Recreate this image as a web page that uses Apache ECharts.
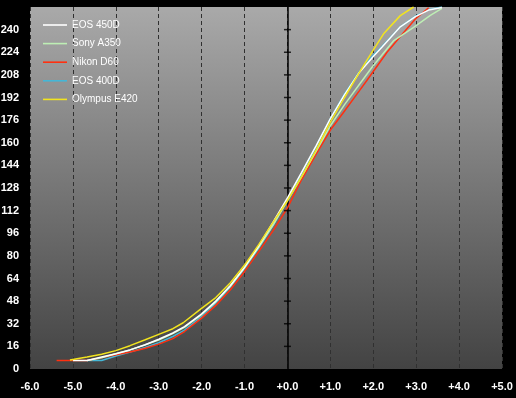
<!DOCTYPE html>
<html>
<head>
<meta charset="utf-8">
<script src="https://cdn.jsdelivr.net/npm/echarts@6/dist/echarts.min.js"></script>
<style>html,body{margin:0;padding:0;background:#000;}#c{width:516px;height:398px;}</style>
</head>
<body>
<div id="c"></div>
<script>
// Exposure (EV) vs output level
var seriesNames = ['EOS 450D', 'Sony A350', 'Nikon D60', 'EOS 400D', 'Olympus E420'];
var eos450d = [[-5.0,6],[-4.67,6],[-4.33,8.5],[-4.0,10.8],[-3.67,13.5],[-3.33,17],[-3.0,21],[-2.67,25.5],[-2.4,30],[-2.0,39],[-1.67,48],[-1.33,59],[-1.0,72],[-0.67,87],[-0.33,104],[0,121],[0.33,139],[0.67,158],[1.0,177],[1.33,194],[1.67,209.5],[2.0,221],[2.2,227.5],[2.63,242],[2.98,249.2],[3.29,253.8],[3.6,255.6]];
var sonyA350 = [[-4.67,6],[-4.33,8],[-4.0,10.8],[-3.67,13.5],[-3.33,17],[-3.0,20.5],[-2.67,25],[-2.4,29.5],[-2.0,38.5],[-1.67,47.5],[-1.33,58.5],[-1.0,71.5],[-0.67,86],[-0.33,102],[0,119],[0.33,136],[0.67,154],[1.0,172],[1.33,187],[1.67,201],[1.97,213.4],[2.47,232],[2.94,241.6],[3.33,250],[3.6,255]];
var nikonD60 = [[-5.38,6],[-4.67,6],[-4.14,9.2],[-3.67,12],[-3.33,14.5],[-3.0,17.6],[-2.67,21.5],[-2.4,26.5],[-2.0,36],[-1.67,45],[-1.33,56],[-1.0,69],[-0.67,83],[-0.33,98],[0,114],[0.33,134],[0.67,152],[1.0,169],[1.33,182.5],[1.67,196.5],[1.85,204],[2.32,224],[2.71,238],[2.98,247.5],[3.29,255.5]];
var eos400d = [[-4.67,6],[-4.33,6],[-4.0,9.2],[-3.67,12],[-3.33,15],[-3.0,18.6],[-2.67,23],[-2.4,27.5],[-2.0,37],[-1.67,46.5],[-1.33,58],[-1.0,71],[-0.67,85.5],[-0.33,102],[0,120],[0.33,138.5],[0.67,157.5],[1.0,177],[1.33,194.5],[1.67,210],[2.0,222],[2.2,228],[2.63,242],[2.98,249.5],[3.29,254],[3.6,256]];
var olympusE420 = [[-5.07,6.4],[-4.67,8.5],[-4.33,10.5],[-4.0,13],[-3.67,16.5],[-3.33,20.5],[-3.0,24.5],[-2.67,28.5],[-2.43,32.7],[-2.04,42],[-1.67,50.5],[-1.33,61],[-1.0,73.5],[-0.67,88],[-0.33,104],[0,119],[0.33,136],[0.67,155],[1.0,174.6],[1.33,192],[1.69,210.5],[2.01,226],[2.24,237],[2.63,249.9],[2.94,256]];
var yTicks = [16,32,48,64,80,96,112,128,144,160,176,192,208,224,240];

var chart = echarts.init(document.getElementById('c'), null, {renderer: 'canvas'});
var labelFont = {color: '#ffffff', fontWeight: 'bold', fontSize: 11, fontFamily: 'Liberation Sans, Arial, sans-serif'};
function lineSeries(name, data, color) {
  return {name: name, type: 'line', data: data, symbol: 'none', smooth: false,
    lineStyle: {color: color, width: 1.5}, itemStyle: {color: color}, xAxisIndex: 0, yAxisIndex: 0};
}
chart.setOption({
  backgroundColor: '#000000',
  animation: false,
  grid: {left: 30, right: 14, top: 7, bottom: 29, show: true, borderWidth: 0,
    outerBoundsMode: 'none',
    backgroundColor: new echarts.graphic.LinearGradient(0, 0, 0, 1, [
      {offset: 0, color: '#a9a9a9'}, {offset: 1, color: '#434343'}])},
  legend: {
    data: seriesNames, orient: 'vertical', left: 38, top: 13,
    icon: 'path://M0,0 L0,0 M0,6.2 L24,6.2 L24,7.8 L0,7.8 Z M24,14 L24,14',
    itemWidth: 24, itemHeight: 14, itemGap: 4.6,
    textStyle: {color: '#ffffff', fontSize: 10, fontFamily: 'Liberation Sans, Arial, sans-serif'}
  },
  xAxis: {
    type: 'value', min: -6, max: 5, interval: 1,
    axisLine: {show: false, onZero: false},
    axisTick: {show: false},
    axisLabel: Object.assign({margin: 12, formatter: function (v) {
      return (v >= 0 ? '+' : '') + v.toFixed(1);
    }}, labelFont),
    splitLine: {show: true, lineStyle: {color: '#303030', type: [4, 3], width: 1}}
  },
  yAxis: [{
    type: 'value', min: 0, max: 256, interval: 16,
    axisLine: {show: false, onZero: false},
    axisTick: {show: false},
    axisLabel: Object.assign({margin: 11, showMaxLabel: false}, labelFont),
    splitLine: {show: false}
  }, {
    type: 'value', min: 0, max: 256, interval: 16,
    axisLine: {show: true, onZero: true, lineStyle: {color: '#000000', width: 1.5}},
    axisTick: {show: false},
    axisLabel: {show: false},
    splitLine: {show: false}
  }],
  series: [
    lineSeries('EOS 400D', eos400d, '#45b6d6'),
    lineSeries('Nikon D60', nikonD60, '#ff3010'),
    lineSeries('Sony A350', sonyA350, '#bdeeb4'),
    lineSeries('EOS 450D', eos450d, '#ffffff'),
    lineSeries('Olympus E420', olympusE420, '#f2e41e'),
    {name: 'ticks', type: 'scatter', xAxisIndex: 0, yAxisIndex: 0, symbol: 'rect', symbolSize: [7, 1.5],
      data: yTicks.map(function (v) { return [0, v]; }), itemStyle: {color: '#000000'}, silent: true, z: 3}
  ]
});
</script>
</body>
</html>
